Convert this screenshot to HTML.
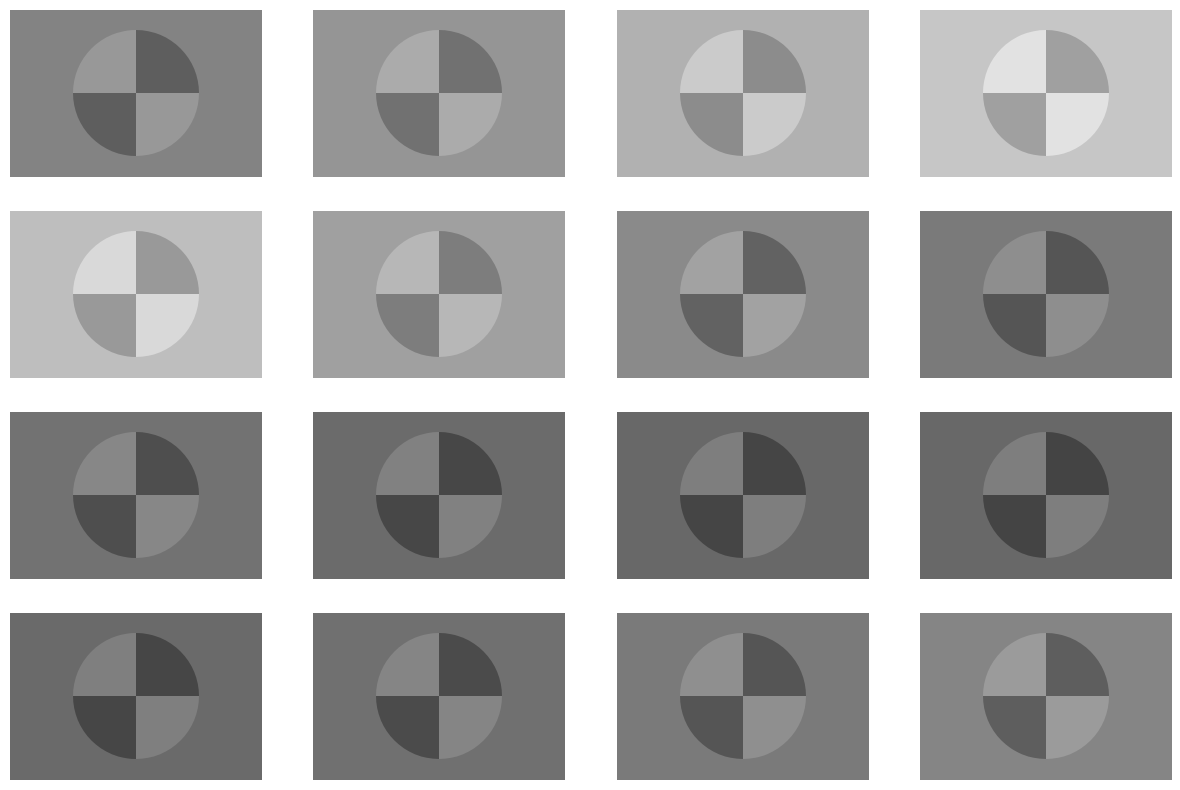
<!DOCTYPE html>
<html><head><meta charset="utf-8"><style>
html,body{margin:0;padding:0;background:#fff;width:1180px;height:790px;overflow:hidden;font-family:"Liberation Sans",sans-serif}
</style></head><body>
<svg id="chart" width="1180" height="790" xmlns="http://www.w3.org/2000/svg"></svg>
<script>
const panelBg = [0x83,0x95,0xb1,0xc6,0xbe,0xa0,0x8a,0x7a,0x72,0x6b,0x68,0x68,0x6a,0x70,0x7a,0x85];
const panelLight = [0x98,0xab,0xcb,0xe2,0xd9,0xb7,0xa2,0x8e,0x87,0x81,0x7e,0x7e,0x7f,0x85,0x8f,0x9b];
const panelDark = [0x5e,0x71,0x8c,0xa0,0x99,0x7d,0x62,0x55,0x4e,0x47,0x45,0x44,0x46,0x4b,0x55,0x5e];
const NS='http://www.w3.org/2000/svg';
const svg=document.getElementById('chart');
const colX=[10,313,617,920], rowY=[10,211,412,613], W=252, H=167, R=63;
function g(v){const h=v.toString(16).padStart(2,'0');return '#'+h+h+h;}
function mk(t,a){const e=document.createElementNS(NS,t);for(const k in a)e.setAttribute(k,a[k]);svg.appendChild(e);return e;}
panelBg.forEach((bg,i)=>{
  const x=colX[i%4], y=rowY[Math.floor(i/4)];
  const r=mk('rect',{x:x,y:y,width:W,height:H,fill:g(bg)});
  
  
  const cx=x+126, cy=y+83;
  const quads=[[-1,-1,panelLight[i]],[1,-1,panelDark[i]],[1,1,panelLight[i]],[-1,1,panelDark[i]]];
  quads.forEach((q,j)=>{
    const [sx,sy,c]=q;
    const p1x=cx+sx*R, p1y=cy, p2x=cx, p2y=cy+sy*R;
    const sweep=(sx*sy>0)?1:0;
    const d=`M${cx},${cy} L${p1x},${p1y} A${R},${R} 0 0 ${sweep} ${p2x},${p2y} Z`;
    const p=mk('path',{d:d,fill:g(c)});
    
    
  });
});
</script>
</body></html>
